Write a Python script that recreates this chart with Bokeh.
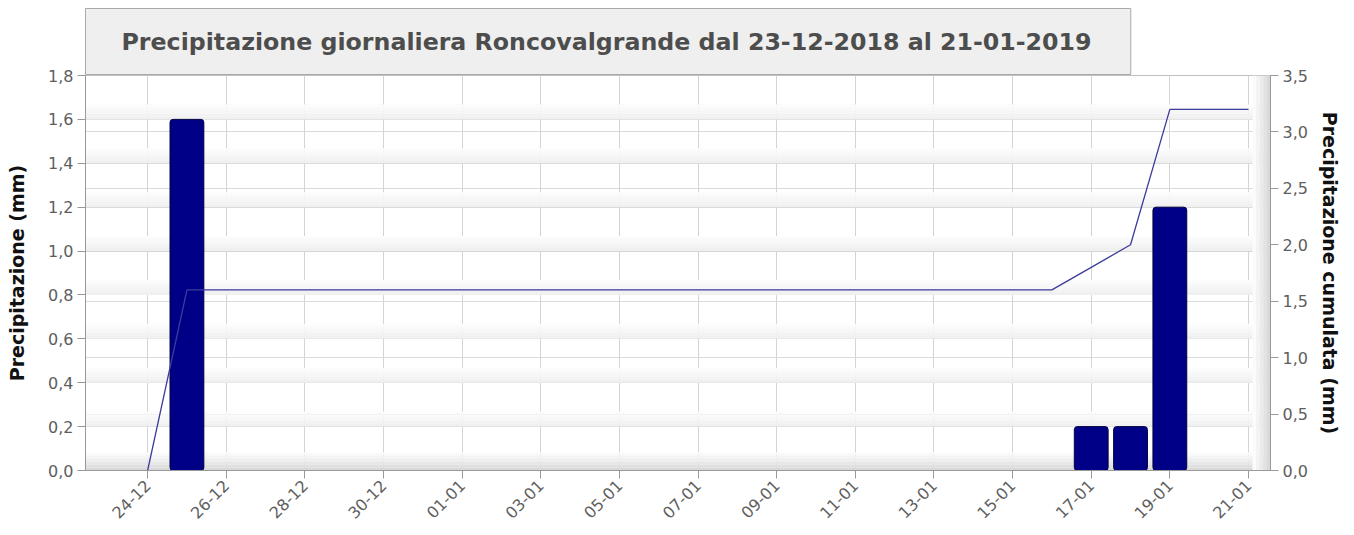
import numpy as np
from bokeh.plotting import figure
from bokeh.models import (Range1d, LinearAxis, FixedTicker, CustomJSTickFormatter,
                          ColumnDataSource, Grid)
from bokeh.embed import file_html
from bokeh.resources import INLINE

# ---------------- data ----------------
dates = ["24-12", "25-12", "26-12", "27-12", "28-12", "29-12", "30-12", "31-12",
         "01-01", "02-01", "03-01", "04-01", "05-01", "06-01", "07-01", "08-01",
         "09-01", "10-01", "11-01", "12-01", "13-01", "14-01", "15-01", "16-01",
         "17-01", "18-01", "19-01", "20-01", "21-01"]
daily_mm = [0.0, 1.6, 0.0, 0.0, 0.0, 0.0, 0.0, 0.0,
            0.0, 0.0, 0.0, 0.0, 0.0, 0.0, 0.0, 0.0,
            0.0, 0.0, 0.0, 0.0, 0.0, 0.0, 0.0, 0.0,
            0.2, 0.2, 1.2, 0.0, 0.0]
cumulative_mm = [0.0, 1.6, 1.6, 1.6, 1.6, 1.6, 1.6, 1.6,
                 1.6, 1.6, 1.6, 1.6, 1.6, 1.6, 1.6, 1.6,
                 1.6, 1.6, 1.6, 1.6, 1.6, 1.6, 1.6, 1.6,
                 1.8, 2.0, 3.2, 3.2, 3.2]
left_ticks = [0.0, 0.2, 0.4, 0.6, 0.8, 1.0, 1.2, 1.4, 1.6, 1.8]
right_ticks = [0.0, 0.5, 1.0, 1.5, 2.0, 2.5, 3.0, 3.5]
title_text = "Precipitazione giornaliera Roncovalgrande dal  23-12-2018 al 21-01-2019"

xs = list(range(len(dates)))
bar_days = [i for i, v in enumerate(daily_mm) if v > 0]
bar_vals = [daily_mm[i] for i in bar_days]

TICK_FONT = "DejaVu Sans"
LABEL_FONT = "DejaVu Sans"
X0, X1 = -1.58, 28.56

p = figure(width=1346, height=527, output_backend="svg", toolbar_location=None,
           x_range=Range1d(X0, X1), y_range=Range1d(0, 1.8),
           min_border_left=85, min_border_right=76, min_border_top=75,
           min_border_bottom=57, background_fill_color="white",
           border_fill_color="white")
p.extra_y_ranges = {"cum": Range1d(0, 3.5)}
p.outline_line_color = "#b0b0b0"

# ---- background shading (pseudo 3D look) ----
px = 1.8 / 395.0
band_cols = ["#fcfcfc", "#f9f9f9", "#f6f6f6", "#f3f3f3", "#f0f0f0"]
for v in left_ticks[1:]:
    for k, c in enumerate(band_cols):
        p.quad(left=X0, right=X1, bottom=v + (4 - k) * 3 * px, top=v + (5 - k) * 3 * px,
               fill_color=c, line_color=None)
floor_cols = ["#fafafa", "#f4f4f4", "#eeeeee", "#e7e7e7", "#e0e0e0", "#d9d9d9"]
for k, c in enumerate(floor_cols):
    p.quad(left=X0, right=X1, top=(18 - 3 * k) * px, bottom=(15 - 3 * k) * px,
           fill_color=c, line_color=None)
wall_cols = ["#fbfbfb", "#f3f3f3", "#ebebeb", "#e2e2e2", "#d9d9d9"]
dpx = (X1 - X0) / 1185.0
for k, c in enumerate(wall_cols):
    p.quad(left=X1 - (18 - 3.6 * k) * dpx, right=X1 - (14.4 - 3.6 * k) * dpx,
           top=1.8, bottom=0, fill_color=c, line_color=None)

# ---- grids ----
p.xgrid.ticker = FixedTicker(ticks=xs[::2])
p.xgrid.grid_line_color = "#d4d4d4"
p.ygrid.ticker = FixedTicker(ticks=left_ticks)
p.ygrid.grid_line_color = "#d4d4d4"
g2 = Grid(dimension=1, ticker=FixedTicker(ticks=right_ticks), y_range_name="cum",
          grid_line_color="#dadada")
p.add_layout(g2)

# ---- bars & line ----
src_b = ColumnDataSource(dict(x=bar_days, top=bar_vals))
p.vbar(x="x", top="top", width=0.86, bottom=0, source=src_b,
       fill_color="#000086", line_color="#000040", line_width=1, border_radius=3)
src_l = ColumnDataSource(dict(x=xs, y=cumulative_mm))
p.line(x="x", y="y", source=src_l, y_range_name="cum", line_color="#3c3c9c",
       line_width=1.3)

# ---- axes ----
fmt = CustomJSTickFormatter(code="return tick.toFixed(1).replace('.', ',');")
xa = p.xaxis[0]
xa.ticker = FixedTicker(ticks=xs[::2])
xa.major_label_overrides = {i: dates[i] for i in xs[::2]}
xa.major_label_orientation = np.pi / 4
ya = p.yaxis[0]
ya.ticker = FixedTicker(ticks=left_ticks)
ya.formatter = fmt
ya.axis_label = "Precipitazione (mm)"

ra = LinearAxis(y_range_name="cum", ticker=FixedTicker(ticks=right_ticks),
                formatter=fmt, axis_label="Precipitazione cumulata (mm)")
p.add_layout(ra, "right")

for ax in (xa, ya, ra):
    ax.axis_line_color = "#999999"
    ax.major_tick_line_color = "#999999"
    ax.major_tick_out = 8
    ax.major_tick_in = 0
    ax.minor_tick_line_color = None
    ax.major_label_text_font = TICK_FONT
    ax.major_label_text_font_size = "16px"
    ax.major_label_text_color = "#5e5e5e"
    ax.major_label_standoff = 4
    ax.axis_label_text_font = LABEL_FONT
    ax.axis_label_text_font_style = "bold"
    ax.axis_label_text_font_size = "19px"
    ax.axis_label_text_color = "#111111"
ya.axis_label_standoff = 17
ra.axis_label_standoff = 8

# ---- title (boxed) ----
t = p.title
t.text = title_text
t.text_font = "DejaVu Sans"
t.text_font_style = "bold"
t.text_font_size = "23.7px"
t.text_color = "#4d4d4d"
t.align = "left"
t.offset = 0
t.standoff = 2
t.background_fill_color = "#efefef"
t.border_line_color = "#aaaaaa"
t.padding = (36, 31, 19, 19)

open("out.html", "w").write(file_html(p, INLINE))
